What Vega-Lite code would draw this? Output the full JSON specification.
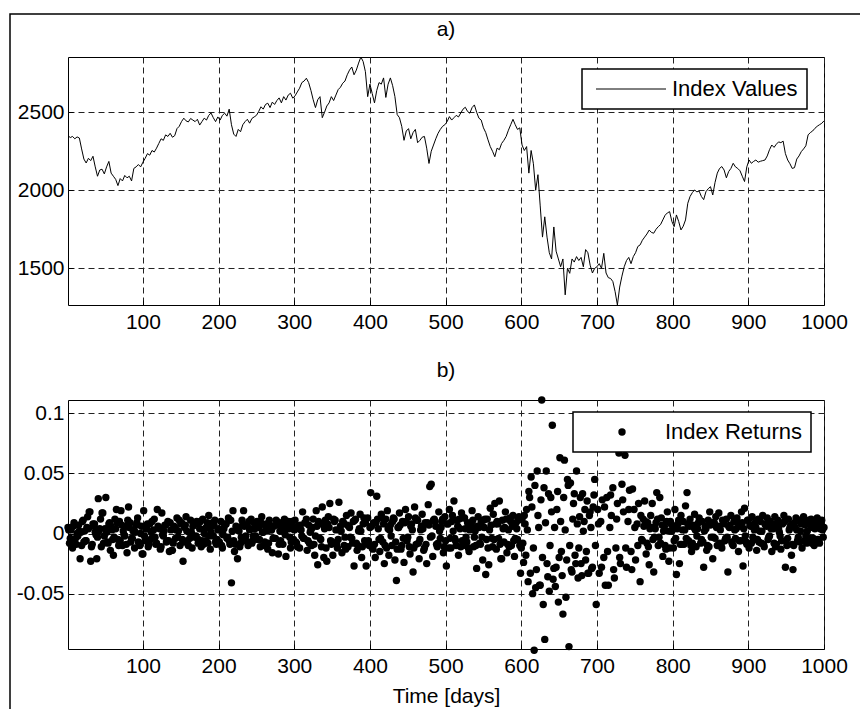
{
"$schema": "https://vega.github.io/schema/vega-lite/v6.json",
"padding": {"left": 9, "top": 13, "right": 0, "bottom": 0},
"background": "white",
"spacing": 26,
"config": {
  "font": "Liberation Sans",
  "view": {"stroke": "black", "strokeWidth": 1},
  "axis": {"labelFont": "Liberation Sans", "labelFontSize": 21, "labelColor": "black", "titleFont": "Liberation Sans", "titleFontSize": 21, "titleFontWeight": "normal", "titleColor": "black", "grid": true, "gridColor": "#222222", "gridDash": [6, 4], "gridWidth": 1, "gridOpacity": 1, "ticks": true, "tickSize": -5, "tickColor": "black", "tickWidth": 1, "domain": false, "labelFlush": false},
  "legend": {"labelFont": "Liberation Sans", "labelFontSize": 22, "labelColor": "black", "strokeColor": "black", "cornerRadius": 0, "strokeWidth": 1.5},
  "title": {"font": "Liberation Sans", "fontSize": 21, "fontWeight": "normal", "color": "black", "anchor": "middle", "frame": "group", "offset": 15}
},
"resolve": {
  "scale": {"x": "independent", "y": "independent", "stroke": "independent", "color": "independent"},
  "legend": {"stroke": "independent", "color": "independent"}
},
"vconcat": [
{
  "width": 756, "height": 248,
  "title": "a)",
  "data": {"values": [
{"t":1,"v":2350},{"t":4,"v":2338},{"t":7,"v":2345},{"t":10,"v":2330},{"t":13,"v":2342},{"t":16,"v":2335},{"t":19,"v":2265},{"t":22,"v":2200},{"t":25,"v":2175},{"t":28,"v":2205},{"t":31,"v":2190},{"t":34,"v":2218},{"t":37,"v":2150},{"t":40,"v":2090},{"t":43,"v":2130},{"t":46,"v":2135},{"t":49,"v":2105},{"t":52,"v":2150},{"t":55,"v":2185},{"t":58,"v":2110},{"t":61,"v":2090},{"t":64,"v":2070},{"t":67,"v":2030},{"t":70,"v":2075},{"t":73,"v":2060},{"t":76,"v":2095},{"t":79,"v":2080},{"t":82,"v":2090},{"t":85,"v":2060},{"t":88,"v":2140},{"t":91,"v":2150},{"t":94,"v":2165},{"t":97,"v":2150},{"t":100,"v":2180},
{"t":103,"v":2205},{"t":106,"v":2235},{"t":109,"v":2225},{"t":112,"v":2255},{"t":115,"v":2245},{"t":118,"v":2270},{"t":121,"v":2300},{"t":124,"v":2330},{"t":127,"v":2320},{"t":130,"v":2355},{"t":133,"v":2345},{"t":136,"v":2365},{"t":139,"v":2340},{"t":142,"v":2350},{"t":145,"v":2395},{"t":148,"v":2410},{"t":151,"v":2440},{"t":154,"v":2462},{"t":157,"v":2445},{"t":160,"v":2438},{"t":163,"v":2460},{"t":166,"v":2450},{"t":169,"v":2440},{"t":172,"v":2455},{"t":175,"v":2418},{"t":178,"v":2440},{"t":181,"v":2462},{"t":184,"v":2450},{"t":187,"v":2480},{"t":190,"v":2495},{"t":193,"v":2465},{"t":196,"v":2440},{"t":199,"v":2470},
{"t":202,"v":2450},{"t":205,"v":2480},{"t":208,"v":2494},{"t":211,"v":2475},{"t":214,"v":2520},{"t":217,"v":2420},{"t":220,"v":2360},{"t":223,"v":2345},{"t":226,"v":2390},{"t":229,"v":2375},{"t":232,"v":2420},{"t":235,"v":2440},{"t":238,"v":2455},{"t":241,"v":2430},{"t":244,"v":2460},{"t":247,"v":2470},{"t":250,"v":2480},{"t":253,"v":2505},{"t":256,"v":2535},{"t":259,"v":2520},{"t":262,"v":2550},{"t":265,"v":2558},{"t":268,"v":2530},{"t":271,"v":2565},{"t":274,"v":2550},{"t":277,"v":2575},{"t":280,"v":2592},{"t":283,"v":2560},{"t":286,"v":2600},{"t":289,"v":2578},{"t":292,"v":2610},{"t":295,"v":2622},{"t":298,"v":2590},
{"t":301,"v":2605},{"t":304,"v":2630},{"t":307,"v":2654},{"t":310,"v":2690},{"t":313,"v":2700},{"t":316,"v":2718},{"t":319,"v":2690},{"t":322,"v":2640},{"t":325,"v":2580},{"t":328,"v":2530},{"t":331,"v":2580},{"t":334,"v":2600},{"t":337,"v":2465},{"t":340,"v":2500},{"t":343,"v":2540},{"t":346,"v":2560},{"t":349,"v":2600},{"t":352,"v":2575},{"t":355,"v":2610},{"t":358,"v":2645},{"t":361,"v":2660},{"t":364,"v":2686},{"t":367,"v":2700},{"t":370,"v":2740},{"t":373,"v":2770},{"t":376,"v":2790},{"t":379,"v":2740},{"t":382,"v":2770},{"t":385,"v":2815},{"t":388,"v":2854},{"t":391,"v":2825},{"t":394,"v":2760},{"t":397,"v":2600},{"t":400,"v":2680},
{"t":403,"v":2620},{"t":406,"v":2560},{"t":409,"v":2640},{"t":412,"v":2690},{"t":415,"v":2680},{"t":418,"v":2720},{"t":421,"v":2595},{"t":424,"v":2680},{"t":427,"v":2720},{"t":430,"v":2670},{"t":433,"v":2600},{"t":436,"v":2485},{"t":439,"v":2465},{"t":442,"v":2410},{"t":445,"v":2320},{"t":448,"v":2380},{"t":451,"v":2395},{"t":454,"v":2330},{"t":457,"v":2370},{"t":460,"v":2390},{"t":463,"v":2305},{"t":466,"v":2320},{"t":469,"v":2340},{"t":472,"v":2345},{"t":475,"v":2270},{"t":478,"v":2172},{"t":481,"v":2250},{"t":484,"v":2290},{"t":487,"v":2330},{"t":490,"v":2365},{"t":493,"v":2390},{"t":496,"v":2410},{"t":499,"v":2420},
{"t":502,"v":2440},{"t":505,"v":2472},{"t":508,"v":2450},{"t":511,"v":2465},{"t":514,"v":2480},{"t":517,"v":2470},{"t":520,"v":2495},{"t":523,"v":2520},{"t":526,"v":2532},{"t":529,"v":2505},{"t":532,"v":2494},{"t":535,"v":2530},{"t":538,"v":2547},{"t":541,"v":2500},{"t":544,"v":2462},{"t":547,"v":2450},{"t":550,"v":2400},{"t":553,"v":2370},{"t":556,"v":2323},{"t":559,"v":2280},{"t":562,"v":2250},{"t":565,"v":2215},{"t":568,"v":2270},{"t":571,"v":2260},{"t":574,"v":2300},{"t":577,"v":2320},{"t":580,"v":2345},{"t":583,"v":2385},{"t":586,"v":2420},{"t":589,"v":2455},{"t":592,"v":2420},{"t":595,"v":2390},{"t":598,"v":2400},
{"t":601,"v":2290},{"t":604,"v":2255},{"t":607,"v":2280},{"t":610,"v":2110},{"t":613,"v":2255},{"t":616,"v":2170},{"t":619,"v":2000},{"t":622,"v":2100},{"t":625,"v":1900},{"t":628,"v":1700},{"t":631,"v":1830},{"t":634,"v":1700},{"t":637,"v":1600},{"t":640,"v":1560},{"t":643,"v":1765},{"t":646,"v":1610},{"t":649,"v":1560},{"t":652,"v":1510},{"t":655,"v":1560},{"t":658,"v":1330},{"t":661,"v":1500},{"t":664,"v":1468},{"t":667,"v":1560},{"t":670,"v":1540},{"t":673,"v":1575},{"t":676,"v":1550},{"t":679,"v":1570},{"t":682,"v":1510},{"t":685,"v":1620},{"t":688,"v":1600},{"t":691,"v":1520},{"t":694,"v":1470},{"t":697,"v":1500},{"t":700,"v":1510},
{"t":703,"v":1530},{"t":706,"v":1500},{"t":709,"v":1596},{"t":712,"v":1470},{"t":715,"v":1440},{"t":718,"v":1435},{"t":721,"v":1415},{"t":724,"v":1350},{"t":727,"v":1265},{"t":730,"v":1380},{"t":733,"v":1450},{"t":736,"v":1510},{"t":739,"v":1550},{"t":742,"v":1570},{"t":745,"v":1530},{"t":748,"v":1575},{"t":751,"v":1600},{"t":754,"v":1640},{"t":757,"v":1650},{"t":760,"v":1680},{"t":763,"v":1700},{"t":766,"v":1720},{"t":769,"v":1745},{"t":772,"v":1730},{"t":775,"v":1725},{"t":778,"v":1750},{"t":781,"v":1767},{"t":784,"v":1780},{"t":787,"v":1810},{"t":790,"v":1840},{"t":793,"v":1855},{"t":796,"v":1863},{"t":799,"v":1800},
{"t":802,"v":1767},{"t":805,"v":1842},{"t":808,"v":1800},{"t":811,"v":1746},{"t":814,"v":1770},{"t":817,"v":1810},{"t":820,"v":1917},{"t":823,"v":1960},{"t":826,"v":1985},{"t":829,"v":2002},{"t":832,"v":1990},{"t":835,"v":1995},{"t":838,"v":1960},{"t":841,"v":1940},{"t":844,"v":1991},{"t":847,"v":2010},{"t":850,"v":2023},{"t":853,"v":1970},{"t":856,"v":2050},{"t":859,"v":2110},{"t":862,"v":2140},{"t":865,"v":2152},{"t":868,"v":2130},{"t":871,"v":2080},{"t":874,"v":2120},{"t":877,"v":2140},{"t":880,"v":2173},{"t":883,"v":2150},{"t":886,"v":2140},{"t":889,"v":2125},{"t":892,"v":2090},{"t":895,"v":2056},{"t":898,"v":2150},
{"t":901,"v":2194},{"t":904,"v":2173},{"t":907,"v":2185},{"t":910,"v":2194},{"t":913,"v":2180},{"t":916,"v":2186},{"t":919,"v":2190},{"t":922,"v":2194},{"t":925,"v":2220},{"t":928,"v":2260},{"t":931,"v":2290},{"t":934,"v":2275},{"t":937,"v":2295},{"t":940,"v":2310},{"t":943,"v":2305},{"t":946,"v":2315},{"t":949,"v":2235},{"t":952,"v":2194},{"t":955,"v":2170},{"t":958,"v":2140},{"t":961,"v":2145},{"t":964,"v":2200},{"t":967,"v":2220},{"t":970,"v":2248},{"t":973,"v":2265},{"t":976,"v":2285},{"t":979,"v":2355},{"t":982,"v":2370},{"t":985,"v":2380},{"t":988,"v":2397},{"t":991,"v":2410},{"t":994,"v":2420},{"t":997,"v":2429},{"t":1000,"v":2445}
  ]},
  "layer": [
    {
      "mark": {"type": "line", "strokeWidth": 1},
      "encoding": {
        "x": {"field": "t", "type": "quantitative", "scale": {"domain": [1, 1000], "nice": false, "zero": false}, "axis": {"values": [100, 200, 300, 400, 500, 600, 700, 800, 900, 1000], "format": "d", "title": null, "labelPadding": 11}},
        "y": {"field": "v", "type": "quantitative", "scale": {"domain": [1265, 2854], "nice": false, "zero": false}, "axis": {"values": [1500, 2000, 2500], "format": "d", "title": null, "labelPadding": 9}},
        "stroke": {"datum": "Index Values", "type": "nominal", "scale": {"range": ["black"]}, "legend": {"title": null, "orient": "none", "legendX": 514, "legendY": 12, "padding": 9, "fillColor": "white", "symbolType": "M -3.5 0 L 3.5 0", "symbolSize": 400, "symbolStrokeWidth": 1, "symbolOffset": 29, "labelOffset": 30}}
      }
    },
    {
      "mark": {"type": "point", "filled": true, "opacity": 0, "size": 1},
      "encoding": {
        "x": {"field": "t", "type": "quantitative"},
        "y": {"field": "v", "type": "quantitative"},
        "fill": {"field": "v", "type": "quantitative", "legend": {"orient": "none", "legendX": -58, "legendY": -43, "direction": "horizontal", "gradientLength": 851, "gradientThickness": 696, "gradientOpacity": 0, "gradientStrokeWidth": 0, "labels": false, "title": null, "padding": 0, "strokeColor": "black", "fillColor": "transparent"}}
      }
    }
  ]
},
{
  "width": 756, "height": 249,
  "title": "b)",
  "data": {"values": [
{"t":1,"r":0.005},{"t":3,"r":-0.008},{"t":5,"r":0.003},{"t":7,"r":-0.012},{"t":9,"r":0.009},{"t":11,"r":-0.004},{"t":13,"r":0.0},{"t":15,"r":0.007},{"t":17,"r":-0.021},{"t":19,"r":-0.010},{"t":21,"r":0.011},{"t":23,"r":0.002},{"t":25,"r":-0.006},{"t":27,"r":0.014},{"t":29,"r":0.018},{"t":31,"r":-0.023},{"t":33,"r":-0.009},{"t":35,"r":0.006},{"t":37,"r":0.001},{"t":39,"r":-0.021},{"t":41,"r":0.029},{"t":43,"r":0.004},{"t":45,"r":-0.011},{"t":47,"r":0.017},{"t":49,"r":-0.002},{"t":51,"r":0.030},{"t":53,"r":-0.007},{"t":55,"r":0.008},{"t":57,"r":-0.014},{"t":59,"r":0.003},{"t":61,"r":-0.018},{"t":63,"r":0.012},{"t":65,"r":0.020},{"t":67,"r":-0.005},{"t":69,"r":0.010},{"t":71,"r":0.019},{"t":73,"r":-0.010},{"t":75,"r":-0.001},{"t":77,"r":0.006},{"t":79,"r":-0.016},{"t":81,"r":0.022},{"t":83,"r":0.009},{"t":85,"r":-0.004},{"t":87,"r":0.002},{"t":89,"r":-0.012},{"t":91,"r":0.007},{"t":93,"r":0.013},{"t":95,"r":-0.008},{"t":97,"r":0.0},{"t":99,"r":-0.017},
{"t":101,"r":0.019},{"t":103,"r":-0.006},{"t":105,"r":0.004},{"t":107,"r":-0.011},{"t":109,"r":0.008},{"t":111,"r":0.001},{"t":113,"r":-0.003},{"t":115,"r":0.012},{"t":117,"r":-0.009},{"t":119,"r":0.020},{"t":121,"r":0.005},{"t":123,"r":-0.013},{"t":125,"r":0.017},{"t":127,"r":-0.002},{"t":129,"r":0.007},{"t":131,"r":-0.007},{"t":133,"r":0.010},{"t":135,"r":-0.015},{"t":137,"r":0.003},{"t":139,"r":-0.014},{"t":141,"r":0.006},{"t":143,"r":-0.004},{"t":145,"r":0.013},{"t":147,"r":0.002},{"t":149,"r":-0.010},{"t":151,"r":0.009},{"t":153,"r":-0.023},{"t":155,"r":0.005},{"t":157,"r":0.014},{"t":159,"r":-0.006},{"t":161,"r":0.001},{"t":163,"r":0.011},{"t":165,"r":-0.012},{"t":167,"r":0.007},{"t":169,"r":-0.003},{"t":171,"r":0.010},{"t":173,"r":-0.008},{"t":175,"r":0.004},{"t":177,"r":-0.011},{"t":179,"r":0.012},{"t":181,"r":0.0},{"t":183,"r":-0.006},{"t":185,"r":0.009},{"t":187,"r":0.015},{"t":189,"r":-0.013},{"t":191,"r":0.006},{"t":193,"r":-0.002},{"t":195,"r":0.011},{"t":197,"r":-0.009},{"t":199,"r":0.003},
{"t":201,"r":-0.007},{"t":203,"r":0.010},{"t":205,"r":-0.012},{"t":207,"r":0.004},{"t":209,"r":0.008},{"t":211,"r":-0.004},{"t":213,"r":0.013},{"t":215,"r":-0.009},{"t":217,"r":-0.041},{"t":219,"r":0.019},{"t":221,"r":-0.015},{"t":223,"r":0.006},{"t":225,"r":-0.021},{"t":227,"r":0.002},{"t":229,"r":-0.008},{"t":231,"r":0.011},{"t":233,"r":0.019},{"t":235,"r":-0.005},{"t":237,"r":0.007},{"t":239,"r":-0.010},{"t":241,"r":0.003},{"t":243,"r":0.012},{"t":245,"r":-0.006},{"t":247,"r":0.009},{"t":249,"r":-0.002},{"t":251,"r":0.010},{"t":253,"r":0.005},{"t":255,"r":-0.011},{"t":257,"r":0.014},{"t":259,"r":0.001},{"t":261,"r":-0.007},{"t":263,"r":0.008},{"t":265,"r":-0.013},{"t":267,"r":0.011},{"t":269,"r":0.003},{"t":271,"r":-0.016},{"t":273,"r":0.006},{"t":275,"r":-0.004},{"t":277,"r":0.010},{"t":279,"r":-0.017},{"t":281,"r":0.002},{"t":283,"r":0.009},{"t":285,"r":-0.009},{"t":287,"r":0.012},{"t":289,"r":-0.019},{"t":291,"r":0.007},{"t":293,"r":0.004},{"t":295,"r":-0.012},{"t":297,"r":0.010},{"t":299,"r":-0.005},
{"t":301,"r":0.011},{"t":303,"r":-0.008},{"t":305,"r":0.006},{"t":307,"r":-0.012},{"t":309,"r":0.003},{"t":311,"r":0.018},{"t":313,"r":-0.004},{"t":315,"r":0.009},{"t":317,"r":-0.014},{"t":319,"r":0.007},{"t":321,"r":0.001},{"t":323,"r":-0.010},{"t":325,"r":0.012},{"t":327,"r":-0.018},{"t":329,"r":0.019},{"t":331,"r":-0.026},{"t":333,"r":0.008},{"t":335,"r":-0.005},{"t":337,"r":0.022},{"t":339,"r":-0.020},{"t":341,"r":0.011},{"t":343,"r":-0.023},{"t":345,"r":0.014},{"t":347,"r":0.025},{"t":349,"r":-0.009},{"t":351,"r":-0.018},{"t":353,"r":0.010},{"t":355,"r":0.003},{"t":357,"r":-0.012},{"t":359,"r":0.026},{"t":361,"r":0.006},{"t":363,"r":-0.016},{"t":365,"r":0.009},{"t":367,"r":-0.003},{"t":369,"r":0.015},{"t":371,"r":-0.011},{"t":373,"r":0.005},{"t":375,"r":0.017},{"t":377,"r":-0.008},{"t":379,"r":-0.027},{"t":381,"r":0.012},{"t":383,"r":-0.014},{"t":385,"r":0.002},{"t":387,"r":0.016},{"t":389,"r":-0.020},{"t":391,"r":0.008},{"t":393,"r":-0.006},{"t":395,"r":-0.027},{"t":397,"r":0.013},{"t":399,"r":-0.010},
{"t":401,"r":0.034},{"t":403,"r":-0.012},{"t":405,"r":0.009},{"t":407,"r":-0.020},{"t":409,"r":0.031},{"t":411,"r":0.004},{"t":413,"r":-0.015},{"t":415,"r":0.016},{"t":417,"r":-0.007},{"t":419,"r":-0.025},{"t":421,"r":0.012},{"t":423,"r":0.019},{"t":425,"r":-0.018},{"t":427,"r":0.007},{"t":429,"r":-0.010},{"t":431,"r":0.013},{"t":433,"r":-0.022},{"t":435,"r":-0.039},{"t":437,"r":0.005},{"t":439,"r":0.017},{"t":441,"r":-0.013},{"t":443,"r":0.010},{"t":445,"r":-0.024},{"t":447,"r":0.020},{"t":449,"r":-0.006},{"t":451,"r":0.014},{"t":453,"r":-0.017},{"t":455,"r":0.008},{"t":457,"r":-0.032},{"t":459,"r":0.022},{"t":461,"r":-0.009},{"t":463,"r":0.011},{"t":465,"r":-0.021},{"t":467,"r":0.003},{"t":469,"r":0.016},{"t":471,"r":-0.014},{"t":473,"r":0.009},{"t":475,"r":-0.025},{"t":477,"r":0.024},{"t":479,"r":0.039},{"t":481,"r":0.041},{"t":483,"r":-0.019},{"t":485,"r":0.012},{"t":487,"r":0.006},{"t":489,"r":-0.011},{"t":491,"r":0.018},{"t":493,"r":-0.004},{"t":495,"r":0.010},{"t":497,"r":-0.016},{"t":499,"r":0.014},
{"t":501,"r":-0.027},{"t":503,"r":0.008},{"t":505,"r":0.020},{"t":507,"r":-0.012},{"t":509,"r":0.015},{"t":511,"r":0.027},{"t":513,"r":-0.006},{"t":515,"r":0.011},{"t":517,"r":-0.018},{"t":519,"r":0.004},{"t":521,"r":0.017},{"t":523,"r":-0.010},{"t":525,"r":0.013},{"t":527,"r":-0.003},{"t":529,"r":0.009},{"t":531,"r":-0.015},{"t":533,"r":0.006},{"t":535,"r":0.019},{"t":537,"r":-0.011},{"t":539,"r":0.002},{"t":541,"r":-0.029},{"t":543,"r":0.014},{"t":545,"r":-0.008},{"t":547,"r":0.010},{"t":549,"r":-0.022},{"t":551,"r":0.005},{"t":553,"r":-0.034},{"t":555,"r":0.012},{"t":557,"r":-0.026},{"t":559,"r":0.021},{"t":561,"r":-0.004},{"t":563,"r":0.016},{"t":565,"r":0.025},{"t":567,"r":-0.013},{"t":569,"r":0.008},{"t":571,"r":0.027},{"t":573,"r":-0.021},{"t":575,"r":0.011},{"t":577,"r":-0.007},{"t":579,"r":0.018},{"t":581,"r":-0.016},{"t":583,"r":0.003},{"t":585,"r":0.013},{"t":587,"r":-0.010},{"t":589,"r":0.015},{"t":591,"r":-0.019},{"t":593,"r":0.009},{"t":595,"r":-0.005},{"t":597,"r":0.014},{"t":599,"r":-0.033},
{"t":601,"r":0.012},{"t":603,"r":-0.024},{"t":605,"r":0.008},{"t":607,"r":0.020},{"t":609,"r":-0.040},{"t":611,"r":0.030},{"t":613,"r":0.047},{"t":615,"r":-0.050},{"t":617,"r":-0.097},{"t":619,"r":-0.045},{"t":621,"r":0.052},{"t":623,"r":0.005},{"t":625,"r":-0.043},{"t":627,"r":0.111},{"t":629,"r":-0.059},{"t":631,"r":-0.088},{"t":633,"r":0.052},{"t":635,"r":-0.036},{"t":637,"r":-0.048},{"t":639,"r":0.030},{"t":641,"r":0.090},{"t":643,"r":-0.029},{"t":645,"r":-0.044},{"t":647,"r":0.020},{"t":649,"r":-0.057},{"t":651,"r":0.063},{"t":653,"r":-0.015},{"t":655,"r":-0.067},{"t":657,"r":0.061},{"t":659,"r":-0.053},{"t":661,"r":0.045},{"t":663,"r":-0.094},{"t":665,"r":0.042},{"t":667,"r":-0.032},{"t":669,"r":0.025},{"t":671,"r":-0.018},{"t":673,"r":0.052},{"t":675,"r":-0.037},{"t":677,"r":0.014},{"t":679,"r":-0.025},{"t":681,"r":0.033},{"t":683,"r":0.010},{"t":685,"r":-0.022},{"t":687,"r":0.027},{"t":689,"r":-0.033},{"t":691,"r":0.018},{"t":693,"r":-0.029},{"t":695,"r":0.022},{"t":697,"r":0.045},{"t":699,"r":-0.059},
{"t":602,"r":-0.008},{"t":604,"r":0.015},{"t":606,"r":-0.018},{"t":608,"r":0.003},{"t":610,"r":0.035},{"t":612,"r":-0.033},{"t":614,"r":0.022},{"t":616,"r":-0.012},{"t":618,"r":0.040},{"t":620,"r":-0.030},{"t":622,"r":0.015},{"t":624,"r":-0.043},{"t":626,"r":0.028},{"t":628,"r":-0.020},{"t":630,"r":0.038},{"t":632,"r":0.009},{"t":634,"r":-0.025},{"t":636,"r":0.033},{"t":638,"r":-0.010},{"t":640,"r":0.018},{"t":642,"r":-0.038},{"t":644,"r":0.005},{"t":646,"r":-0.028},{"t":648,"r":0.035},{"t":650,"r":-0.020},{"t":652,"r":0.010},{"t":654,"r":-0.035},{"t":656,"r":0.030},{"t":658,"r":0.003},{"t":660,"r":-0.022},{"t":662,"r":0.040},{"t":664,"r":-0.010},{"t":666,"r":-0.030},{"t":668,"r":0.012},{"t":670,"r":0.033},{"t":672,"r":-0.025},{"t":674,"r":0.008},{"t":676,"r":-0.012},{"t":678,"r":0.030},{"t":680,"r":-0.035},{"t":682,"r":0.002},{"t":684,"r":0.020},{"t":686,"r":-0.015},{"t":688,"r":-0.033},{"t":690,"r":0.015},{"t":692,"r":0.005},{"t":694,"r":-0.028},{"t":696,"r":0.032},{"t":698,"r":-0.010},
{"t":701,"r":0.020},{"t":703,"r":-0.033},{"t":705,"r":0.010},{"t":707,"r":0.028},{"t":709,"r":-0.020},{"t":711,"r":-0.043},{"t":713,"r":0.030},{"t":715,"r":-0.043},{"t":717,"r":0.005},{"t":719,"r":0.015},{"t":721,"r":0.038},{"t":723,"r":-0.037},{"t":725,"r":-0.012},{"t":727,"r":0.025},{"t":729,"r":0.067},{"t":731,"r":-0.025},{"t":733,"r":0.041},{"t":735,"r":0.018},{"t":737,"r":0.065},{"t":739,"r":-0.028},{"t":741,"r":0.010},{"t":743,"r":0.036},{"t":745,"r":-0.015},{"t":747,"r":0.037},{"t":749,"r":0.020},{"t":751,"r":-0.022},{"t":753,"r":0.008},{"t":755,"r":0.025},{"t":757,"r":-0.040},{"t":759,"r":-0.005},{"t":761,"r":0.012},{"t":763,"r":0.027},{"t":765,"r":-0.017},{"t":767,"r":0.009},{"t":769,"r":-0.026},{"t":771,"r":0.015},{"t":773,"r":0.025},{"t":775,"r":-0.032},{"t":777,"r":0.004},{"t":779,"r":0.034},{"t":781,"r":-0.010},{"t":783,"r":0.030},{"t":785,"r":0.013},{"t":787,"r":-0.019},{"t":789,"r":0.006},{"t":791,"r":-0.013},{"t":793,"r":0.018},{"t":795,"r":-0.023},{"t":797,"r":0.010},{"t":799,"r":0.002},
{"t":702,"r":0.008},{"t":706,"r":-0.028},{"t":710,"r":0.022},{"t":714,"r":-0.015},{"t":718,"r":0.032},{"t":722,"r":-0.030},{"t":726,"r":0.012},{"t":730,"r":-0.020},{"t":734,"r":0.028},{"t":738,"r":-0.012},{"t":742,"r":0.020},{"t":746,"r":-0.030},{"t":750,"r":0.005},{"t":754,"r":-0.010},{"t":758,"r":0.015},
{"t":801,"r":-0.012},{"t":803,"r":0.020},{"t":805,"r":-0.034},{"t":807,"r":0.008},{"t":809,"r":-0.025},{"t":811,"r":0.015},{"t":813,"r":0.003},{"t":815,"r":-0.009},{"t":817,"r":0.023},{"t":819,"r":0.034},{"t":821,"r":-0.006},{"t":823,"r":0.012},{"t":825,"r":-0.015},{"t":827,"r":0.007},{"t":829,"r":0.016},{"t":831,"r":-0.011},{"t":833,"r":0.004},{"t":835,"r":0.013},{"t":837,"r":-0.008},{"t":839,"r":0.010},{"t":841,"r":-0.028},{"t":843,"r":0.006},{"t":845,"r":-0.014},{"t":847,"r":0.011},{"t":849,"r":0.018},{"t":851,"r":-0.003},{"t":853,"r":-0.021},{"t":855,"r":0.009},{"t":857,"r":0.014},{"t":859,"r":-0.010},{"t":861,"r":0.017},{"t":863,"r":0.003},{"t":865,"r":-0.012},{"t":867,"r":0.008},{"t":869,"r":-0.006},{"t":871,"r":0.012},{"t":873,"r":-0.032},{"t":875,"r":0.005},{"t":877,"r":0.015},{"t":879,"r":-0.009},{"t":881,"r":0.010},{"t":883,"r":-0.004},{"t":885,"r":0.013},{"t":887,"r":-0.015},{"t":889,"r":0.006},{"t":891,"r":0.018},{"t":893,"r":-0.027},{"t":895,"r":0.021},{"t":897,"r":-0.007},{"t":899,"r":0.011},
{"t":901,"r":-0.012},{"t":903,"r":0.006},{"t":905,"r":0.014},{"t":907,"r":-0.005},{"t":909,"r":0.009},{"t":911,"r":-0.014},{"t":913,"r":0.012},{"t":915,"r":0.002},{"t":917,"r":-0.008},{"t":919,"r":0.015},{"t":921,"r":-0.011},{"t":923,"r":0.007},{"t":925,"r":0.013},{"t":927,"r":-0.003},{"t":929,"r":0.010},{"t":931,"r":-0.015},{"t":933,"r":0.004},{"t":935,"r":0.014},{"t":937,"r":-0.009},{"t":939,"r":0.011},{"t":941,"r":0.001},{"t":943,"r":-0.013},{"t":945,"r":0.008},{"t":947,"r":0.015},{"t":949,"r":-0.028},{"t":951,"r":-0.010},{"t":953,"r":0.012},{"t":955,"r":0.005},{"t":957,"r":-0.018},{"t":959,"r":-0.030},{"t":961,"r":0.009},{"t":963,"r":0.013},{"t":965,"r":-0.006},{"t":967,"r":0.011},{"t":969,"r":0.002},{"t":971,"r":-0.012},{"t":973,"r":0.014},{"t":975,"r":0.007},{"t":977,"r":-0.008},{"t":979,"r":0.010},{"t":981,"r":-0.004},{"t":983,"r":0.012},{"t":985,"r":0.005},{"t":987,"r":-0.010},{"t":989,"r":0.009},{"t":991,"r":0.013},{"t":993,"r":-0.006},{"t":995,"r":0.004},{"t":997,"r":0.011},{"t":999,"r":-0.003},{"t":1000,"r":0.005},
{"t":2,"r":0.003},{"t":6,"r":-0.005},{"t":10,"r":0.007},{"t":14,"r":-0.002},{"t":18,"r":0.001},{"t":22,"r":-0.007},{"t":26,"r":0.005},{"t":30,"r":0.018},{"t":34,"r":0.008},{"t":38,"r":-0.001},{"t":42,"r":0.002},{"t":46,"r":0.017},{"t":50,"r":0.004},{"t":54,"r":-0.008},{"t":58,"r":0.006},{"t":62,"r":-0.003},{"t":66,"r":0.009},{"t":70,"r":-0.006},{"t":74,"r":0.002},{"t":78,"r":-0.009},{"t":82,"r":0.005},{"t":86,"r":-0.004},{"t":90,"r":0.001},{"t":94,"r":-0.007},{"t":98,"r":0.006},
{"t":102,"r":-0.002},{"t":106,"r":0.008},{"t":110,"r":-0.005},{"t":114,"r":0.003},{"t":118,"r":-0.008},{"t":122,"r":0.004},{"t":126,"r":-0.001},{"t":130,"r":0.007},{"t":134,"r":-0.006},{"t":138,"r":-0.014},{"t":142,"r":0.005},{"t":146,"r":-0.003},{"t":150,"r":0.008},{"t":154,"r":-0.007},{"t":158,"r":0.002},{"t":162,"r":-0.004},{"t":166,"r":0.006},{"t":170,"r":-0.002},{"t":174,"r":0.009},{"t":178,"r":-0.006},{"t":182,"r":0.004},{"t":186,"r":-0.008},{"t":190,"r":0.001},{"t":194,"r":0.007},{"t":198,"r":-0.005},
{"t":202,"r":0.003},{"t":206,"r":-0.001},{"t":210,"r":0.008},{"t":214,"r":-0.006},{"t":218,"r":0.002},{"t":222,"r":-0.009},{"t":226,"r":0.005},{"t":230,"r":-0.003},{"t":234,"r":0.006},{"t":238,"r":-0.007},{"t":242,"r":0.004},{"t":246,"r":-0.002},{"t":250,"r":0.009},{"t":254,"r":-0.005},{"t":258,"r":0.001},{"t":262,"r":0.006},{"t":266,"r":-0.008},{"t":270,"r":0.003},{"t":274,"r":-0.004},{"t":278,"r":0.007},{"t":282,"r":-0.006},{"t":286,"r":0.002},{"t":290,"r":0.008},{"t":294,"r":-0.003},{"t":298,"r":0.005},
{"t":302,"r":-0.007},{"t":306,"r":0.004},{"t":310,"r":-0.002},{"t":314,"r":0.009},{"t":318,"r":-0.006},{"t":322,"r":0.003},{"t":326,"r":-0.009},{"t":330,"r":0.006},{"t":334,"r":-0.004},{"t":338,"r":0.008},{"t":342,"r":-0.012},{"t":346,"r":0.005},{"t":350,"r":-0.007},{"t":354,"r":0.011},{"t":358,"r":-0.005},{"t":362,"r":0.002},{"t":366,"r":-0.010},{"t":370,"r":0.007},{"t":374,"r":-0.003},{"t":378,"r":0.010},{"t":382,"r":-0.008},{"t":386,"r":0.004},{"t":390,"r":-0.011},{"t":394,"r":0.009},{"t":398,"r":-0.006},
{"t":402,"r":0.006},{"t":406,"r":-0.009},{"t":410,"r":0.012},{"t":414,"r":-0.004},{"t":418,"r":0.008},{"t":422,"r":-0.012},{"t":426,"r":0.003},{"t":430,"r":0.010},{"t":434,"r":-0.007},{"t":438,"r":0.005},{"t":442,"r":-0.010},{"t":446,"r":0.009},{"t":450,"r":-0.003},{"t":454,"r":0.006},{"t":458,"r":-0.012},{"t":462,"r":0.011},{"t":466,"r":-0.005},{"t":470,"r":0.004},{"t":474,"r":-0.009},{"t":478,"r":0.007},{"t":482,"r":-0.002},{"t":486,"r":0.010},{"t":490,"r":-0.008},{"t":494,"r":0.005},{"t":498,"r":-0.011},
{"t":502,"r":0.008},{"t":506,"r":-0.004},{"t":510,"r":0.002},{"t":514,"r":-0.010},{"t":518,"r":0.012},{"t":522,"r":-0.006},{"t":526,"r":0.004},{"t":530,"r":-0.012},{"t":534,"r":0.009},{"t":538,"r":-0.003},{"t":542,"r":0.006},{"t":546,"r":-0.009},{"t":550,"r":0.011},{"t":554,"r":-0.005},{"t":558,"r":0.003},{"t":562,"r":-0.011},{"t":566,"r":0.008},{"t":570,"r":-0.004},{"t":574,"r":-0.021},{"t":578,"r":0.005},{"t":582,"r":-0.009},{"t":586,"r":0.010},{"t":590,"r":-0.006},{"t":594,"r":0.004},{"t":598,"r":-0.010},
{"t":762,"r":0.006},{"t":766,"r":-0.008},{"t":770,"r":0.004},{"t":774,"r":-0.005},{"t":778,"r":0.009},{"t":782,"r":-0.003},{"t":786,"r":0.007},{"t":790,"r":-0.010},{"t":794,"r":0.002},{"t":798,"r":0.008},{"t":802,"r":-0.006},{"t":806,"r":0.004},{"t":810,"r":-0.009},{"t":814,"r":0.010},{"t":818,"r":-0.004},{"t":822,"r":0.006},{"t":826,"r":-0.008},{"t":830,"r":0.003},{"t":834,"r":0.009},{"t":838,"r":-0.005},{"t":842,"r":0.002},{"t":846,"r":-0.010},{"t":850,"r":0.007},{"t":854,"r":-0.003},{"t":858,"r":0.005},
{"t":862,"r":-0.008},{"t":866,"r":0.011},{"t":870,"r":-0.004},{"t":874,"r":0.006},{"t":878,"r":-0.007},{"t":882,"r":0.003},{"t":886,"r":0.009},{"t":890,"r":-0.006},{"t":894,"r":0.004},{"t":898,"r":-0.009},{"t":902,"r":0.007},{"t":906,"r":-0.003},{"t":910,"r":0.005},{"t":914,"r":-0.007},{"t":918,"r":0.002},{"t":922,"r":0.008},{"t":926,"r":-0.005},{"t":930,"r":0.004},{"t":934,"r":-0.008},{"t":938,"r":0.006},{"t":942,"r":-0.002},{"t":946,"r":0.009},{"t":950,"r":-0.006},{"t":954,"r":0.003},{"t":958,"r":-0.009},{"t":962,"r":0.005},{"t":966,"r":-0.003},{"t":970,"r":0.008},{"t":974,"r":-0.006},{"t":978,"r":0.002},{"t":982,"r":0.007},{"t":986,"r":-0.004},{"t":990,"r":0.005},{"t":994,"r":-0.008},{"t":998,"r":0.003},
{"t":4,"r":-0.004},{"t":8,"r":0.006},{"t":12,"r":-0.009},{"t":16,"r":0.002},{"t":20,"r":0.010},{"t":24,"r":-0.006},{"t":28,"r":0.004},{"t":32,"r":-0.011},{"t":36,"r":0.008},{"t":40,"r":-0.003},{"t":44,"r":0.012},{"t":48,"r":-0.008},{"t":52,"r":0.001},{"t":56,"r":0.009},{"t":60,"r":-0.005},{"t":64,"r":0.004},{"t":68,"r":-0.010},{"t":72,"r":0.007},{"t":76,"r":-0.002},{"t":80,"r":0.011},{"t":84,"r":-0.007},{"t":88,"r":0.003},{"t":92,"r":0.009},{"t":96,"r":-0.010},{"t":100,"r":-0.017},
{"t":104,"r":0.004},{"t":108,"r":-0.009},{"t":112,"r":0.010},{"t":116,"r":-0.003},{"t":120,"r":0.006},{"t":124,"r":-0.011},{"t":128,"r":0.002},{"t":132,"r":-0.006},{"t":136,"r":0.009},{"t":140,"r":-0.008},{"t":144,"r":0.003},{"t":148,"r":0.011},{"t":152,"r":-0.005},{"t":156,"r":0.007},{"t":160,"r":-0.010},{"t":164,"r":0.001},{"t":168,"r":0.008},{"t":172,"r":-0.004},{"t":176,"r":0.010},{"t":180,"r":-0.009},{"t":184,"r":0.005},{"t":188,"r":-0.002},{"t":192,"r":0.009},{"t":196,"r":-0.007},{"t":200,"r":0.004},
{"t":204,"r":-0.010},{"t":208,"r":0.007},{"t":212,"r":-0.003},{"t":216,"r":0.011},{"t":220,"r":-0.006},{"t":224,"r":0.003},{"t":228,"r":-0.011},{"t":232,"r":0.008},{"t":236,"r":-0.002},{"t":240,"r":0.010},{"t":244,"r":-0.008},{"t":248,"r":0.004},{"t":252,"r":-0.005},{"t":256,"r":0.009},{"t":260,"r":-0.010},{"t":264,"r":0.002},{"t":268,"r":0.007},{"t":272,"r":-0.004},{"t":276,"r":0.011},{"t":280,"r":-0.009},{"t":284,"r":0.005},{"t":288,"r":-0.001},{"t":292,"r":0.010},{"t":296,"r":-0.007},{"t":300,"r":0.003},
{"t":304,"r":-0.011},{"t":308,"r":0.007},{"t":312,"r":-0.004},{"t":316,"r":0.012},{"t":320,"r":-0.008},{"t":324,"r":0.005},{"t":328,"r":-0.002},{"t":332,"r":0.010},{"t":336,"r":-0.011},{"t":340,"r":0.004},{"t":344,"r":0.008},{"t":348,"r":-0.006},{"t":352,"r":0.012},{"t":356,"r":-0.009},{"t":360,"r":0.003},{"t":364,"r":0.010},{"t":368,"r":-0.013},{"t":372,"r":0.006},{"t":376,"r":-0.004},{"t":380,"r":0.011},{"t":384,"r":-0.010},{"t":388,"r":0.002},{"t":392,"r":0.013},{"t":396,"r":-0.008},{"t":400,"r":0.005},
{"t":404,"r":-0.013},{"t":408,"r":0.009},{"t":412,"r":-0.005},{"t":416,"r":0.013},{"t":420,"r":-0.010},{"t":424,"r":0.004},{"t":428,"r":-0.002},{"t":432,"r":0.012},{"t":436,"r":-0.013},{"t":440,"r":0.007},{"t":444,"r":-0.004},{"t":448,"r":0.010},{"t":452,"r":-0.011},{"t":456,"r":0.003},{"t":460,"r":0.013},{"t":464,"r":-0.008},{"t":468,"r":0.006},{"t":472,"r":-0.012},{"t":476,"r":0.009},{"t":480,"r":-0.003},{"t":484,"r":0.011},{"t":488,"r":-0.009},{"t":492,"r":0.002},{"t":496,"r":0.012},{"t":500,"r":-0.006},
{"t":504,"r":-0.012},{"t":508,"r":0.010},{"t":512,"r":-0.004},{"t":516,"r":0.006},{"t":520,"r":-0.011},{"t":524,"r":0.013},{"t":528,"r":-0.007},{"t":532,"r":0.003},{"t":536,"r":0.011},{"t":540,"r":-0.010},{"t":544,"r":0.005},{"t":548,"r":-0.003},{"t":552,"r":0.012},{"t":556,"r":-0.012},{"t":560,"r":0.007},{"t":564,"r":-0.005},{"t":568,"r":0.010},{"t":572,"r":-0.009},{"t":576,"r":0.004},{"t":580,"r":0.012},{"t":584,"r":-0.011},{"t":588,"r":0.006},{"t":592,"r":-0.004},{"t":596,"r":0.011},{"t":600,"r":-0.012},
{"t":760,"r":-0.006},{"t":764,"r":0.010},{"t":768,"r":-0.011},{"t":772,"r":0.005},{"t":776,"r":-0.003},{"t":780,"r":0.012},{"t":784,"r":-0.008},{"t":788,"r":0.002},{"t":792,"r":0.010},{"t":796,"r":-0.012},{"t":800,"r":0.006},{"t":804,"r":-0.004},{"t":808,"r":0.011},{"t":812,"r":-0.009},{"t":816,"r":0.003},{"t":820,"r":0.008},{"t":824,"r":-0.010},{"t":828,"r":0.005},{"t":832,"r":-0.002},{"t":836,"r":0.010},{"t":840,"r":-0.007},{"t":844,"r":0.004},{"t":848,"r":-0.011},{"t":852,"r":0.009},{"t":856,"r":-0.004},
{"t":860,"r":0.006},{"t":864,"r":-0.009},{"t":868,"r":0.010},{"t":872,"r":-0.003},{"t":876,"r":0.007},{"t":880,"r":-0.010},{"t":884,"r":0.004},{"t":888,"r":-0.006},{"t":892,"r":0.009},{"t":896,"r":-0.002},{"t":900,"r":0.011},{"t":904,"r":-0.008},{"t":908,"r":0.003},{"t":912,"r":-0.005},{"t":916,"r":0.010},{"t":920,"r":-0.009},{"t":924,"r":0.006},{"t":928,"r":-0.002},{"t":932,"r":0.008},{"t":936,"r":-0.011},{"t":940,"r":0.004},{"t":944,"r":-0.006},{"t":948,"r":0.010},{"t":952,"r":-0.004},{"t":956,"r":0.007},
{"t":960,"r":-0.010},{"t":964,"r":0.003},{"t":968,"r":-0.007},{"t":972,"r":0.009},{"t":976,"r":-0.002},{"t":980,"r":0.011},{"t":984,"r":-0.008},{"t":988,"r":0.004},{"t":992,"r":-0.005},{"t":996,"r":0.008}
  ]},
  "mark": {"type": "point", "filled": true, "size": 55, "opacity": 1},
  "encoding": {
    "x": {"field": "t", "type": "quantitative", "scale": {"domain": [1, 1000], "nice": false, "zero": false}, "axis": {"values": [100, 200, 300, 400, 500, 600, 700, 800, 900, 1000], "format": "d", "title": "Time [days]", "labelPadding": 11, "titlePadding": 9}},
    "y": {"field": "r", "type": "quantitative", "scale": {"domain": [-0.096, 0.111], "nice": false, "zero": false}, "axis": {"values": [-0.05, 0, 0.05, 0.1], "labelExpr": "'' + datum.value", "title": null, "labelPadding": 9}},
    "color": {"datum": "Index Returns", "type": "nominal", "scale": {"range": ["black"]}, "legend": {"title": null, "orient": "none", "legendX": 505, "legendY": 12, "padding": 9, "fillColor": "white", "symbolType": "circle", "symbolSize": 55, "symbolOpacity": 1, "symbolOffset": 29, "labelOffset": 32}}
  }
}
]
}
